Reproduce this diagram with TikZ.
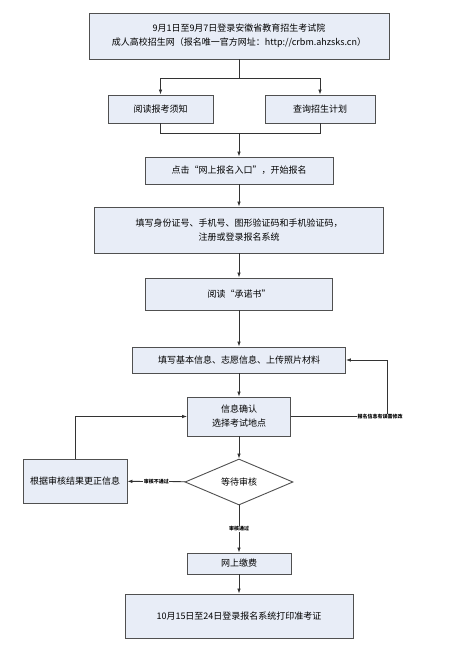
\documentclass[tikz,border=0pt]{standalone}
\usepackage{fontspec}
\setmainfont{Liberation Serif}
\newfontfamily\cjk{Noto Sans CJK SC}
\usetikzlibrary{shapes.geometric,arrows.meta}
\definecolor{boxfill}{HTML}{E8EDF7}
\definecolor{boxline}{HTML}{505050}
\tikzset{
  stepbox/.style={draw=boxline, line width=0.9pt, fill=boxfill, inner sep=1pt, align=center,
    font=\cjk\fontsize{9}{14}\selectfont},
  decide/.style={diamond, draw=boxline, line width=0.9pt, fill=white, inner sep=0pt, align=center,
    font=\cjk\fontsize{9}{14}\selectfont},
  conn/.style={draw=black!80, line width=0.8pt},
  arr/.style={conn, -{Latex[length=5pt,width=3.6pt]}},
  tinylabel/.style={fill=white, inner sep=0.5pt, font=\cjk\bfseries\fontsize{5}{6}\selectfont}
}
\begin{document}
\begin{tikzpicture}[x=1pt,y=-1pt]
\useasboundingbox (0,0) rectangle (450,647);
\node[stepbox, minimum width=300, minimum height=46] (b1) at (239,36)
  {9月1日至9月7日登录安徽省教育招生考试院\\成人高校招生网（报名唯一官方网址：http://crbm.ahzsks.cn）};
\node[stepbox, minimum width=105, minimum height=28] (b2a) at (160.5,109) {阅读报考须知};
\node[stepbox, minimum width=110, minimum height=28] (b2b) at (320,109) {查询招生计划};
\node[stepbox, minimum width=188, minimum height=27] (b3) at (239,170.5) {点击“网上报名入口”，开始报名};
\node[stepbox, minimum width=289, minimum height=46] (b4) at (239,230)
  {填写身份证号、手机号、图形验证码和手机验证码，\\注册或登录报名系统};
\node[stepbox, minimum width=187, minimum height=32] (b5) at (239,294) {阅读“承诺书”};
\node[stepbox, minimum width=213, minimum height=26] (b6) at (239,360) {填写基本信息、志愿信息、上传照片材料};
\node[stepbox, minimum width=103, minimum height=39] (b7) at (239,416.5) {信息确认\\选择考试地点};
\node[decide, minimum width=108, minimum height=46] (dia) at (239,482) {等待审核};
\node[stepbox, minimum width=104, minimum height=44] (bl) at (75,481) {根据审核结果更正信息};
\node[stepbox, minimum width=104, minimum height=21] (b8) at (239,563.5) {网上缴费};
\node[stepbox, minimum width=228, minimum height=44] (b9) at (239,616) {10月15日至24日登录报名系统打印准考证};

\coordinate (split) at (239,78);
\coordinate (join) at (239,133);
\coordinate (rc) at (387,416.5);

\draw[conn] (b1) -- (split);
\draw[arr] (split) -| (b2a);
\draw[arr] (split) -| (b2b);
\draw[conn] (b2a) |- (join);
\draw[conn] (b2b) |- (join);
\draw[arr] (join) -- (b3);
\draw[arr] (b3) -- (b4);
\draw[arr] (b4) -- (b5);
\draw[arr] (b5) -- (b6);
\draw[arr] (b6) -- (b7);
\draw[arr] (b7) -- (dia);
\draw[arr] (b7) -- (rc) |- (b6);
\node[tinylabel] (lr) at (380,416.5) {报名信息有误需修改};
\draw[arr] (dia) -- node[tinylabel] (ll) {审核不通过} (bl);
\draw[arr] (bl.north) |- (b7.west);
\draw[arr] (dia) -- node[tinylabel] (ld) {审核通过} (b8);
\draw[arr] (b8) -- (b9);
\end{tikzpicture}
\end{document}
